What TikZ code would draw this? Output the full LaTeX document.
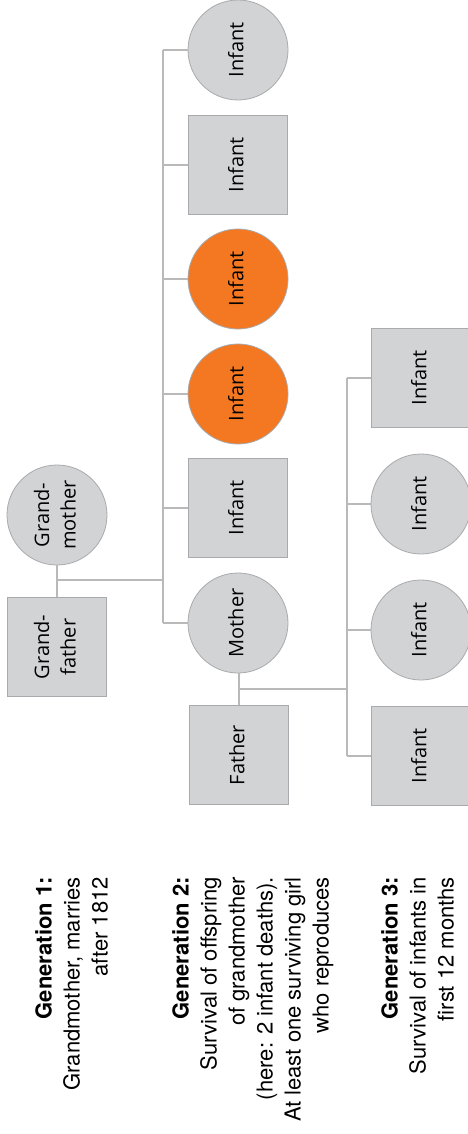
\documentclass[tikz,border=0pt]{standalone}
\usepackage{fontspec}
\usepackage{graphicx}
\usepackage{xcolor}
\usepackage{tikz}
\setmainfont{TeX Gyre Heros}
\newfontfamily\boxfont{Open Sans}
\definecolor{famfill}{RGB}{209,211,212}
\definecolor{famedge}{RGB}{168,170,173}
\definecolor{famline}{RGB}{185,185,185}
\definecolor{famorange}{RGB}{243,120,33}
\newcommand{\vtext}[1]{\rotatebox{90}{\begin{tabular}{@{}c@{}}#1\end{tabular}}}

\begin{document}
\begin{tikzpicture}[x=1pt,y=-1pt,
  person/.style={draw=famedge,fill=famfill,line width=0.8pt,inner sep=0pt,font=\boxfont\fontsize{20}{26.5}\selectfont},
  female/.style={person,circle,minimum size=100pt},
  male/.style={person,rectangle,minimum size=99pt},
  dead/.style={fill=famorange},
  tie/.style={draw=famline,line width=1.1pt},
  gentext/.style={rotate=90,anchor=north east,align=right,inner sep=0pt,font=\fontsize{22}{28}\selectfont}]
\useasboundingbox (0,0) rectangle (467,1134);
\node[female] (gm) at (57,515) {\vtext{Grand-\\mother}};
\node[male] (gf) at (57,647) {\vtext{Grand-\\father}};
\node[female] (c1) at (238,50) {\vtext{Infant}};
\node[male] (c2) at (238,165) {\vtext{Infant}};
\node[female,dead] (c3) at (238,279) {\vtext{Infant}};
\node[female,dead] (c4) at (238,394) {\vtext{Infant}};
\node[male] (c5) at (238,508) {\vtext{Infant}};
\node[female] (mother) at (238,623) {\vtext{Mother}};
\node[male] (father) at (239,755) {\vtext{Father}};
\node[male] (d1) at (421,378) {\vtext{Infant}};
\node[female] (d2) at (421,504) {\vtext{Infant}};
\node[female] (d3) at (421,630) {\vtext{Infant}};
\node[male] (d4) at (421,756) {\vtext{Infant}};
\coordinate (gmtie) at (57,580);
\coordinate (gentwo) at (163,580);
\coordinate (mtie) at (239,689);
\coordinate (genthree) at (347,689);
\draw[tie] (gm) -- (gf);
\draw[tie] (gmtie) -- (gentwo);
\draw[tie] (c1.west -| gentwo) -- (mother.west -| gentwo);
\draw[tie] (c1.west) -- (c1.west -| gentwo);
\draw[tie] (c2.west) -- (c2.west -| gentwo);
\draw[tie] (c3.west) -- (c3.west -| gentwo);
\draw[tie] (c4.west) -- (c4.west -| gentwo);
\draw[tie] (c5.west) -- (c5.west -| gentwo);
\draw[tie] (mother.west) -- (mother.west -| gentwo);
\draw[tie] (mother.south -| mtie) -- (father.north -| mtie);
\draw[tie] (mtie) -- (genthree);
\draw[tie] (d1.west -| genthree) -- (d4.west -| genthree);
\draw[tie] (d1.west) -- (d1.west -| genthree);
\draw[tie] (d2.west) -- (d2.west -| genthree);
\draw[tie] (d3.west) -- (d3.west -| genthree);
\draw[tie] (d4.west) -- (d4.west -| genthree);
\node[gentext] (genone) at (35,877) {\textbf{Generation 1:}\\Grandmother, marries\\after 1812};
\node[gentext] (gentwotext) at (172,877) {\textbf{Generation 2:}\\Survival of offspring\\of grandmother\\(here: 2 infant deaths).\\At least one surviving girl\\who reproduces};
\node[gentext] (genthreetext) at (381,877) {\textbf{Generation 3:}\\Survival of infants in\\first 12 months};
\end{tikzpicture}
\end{document}
